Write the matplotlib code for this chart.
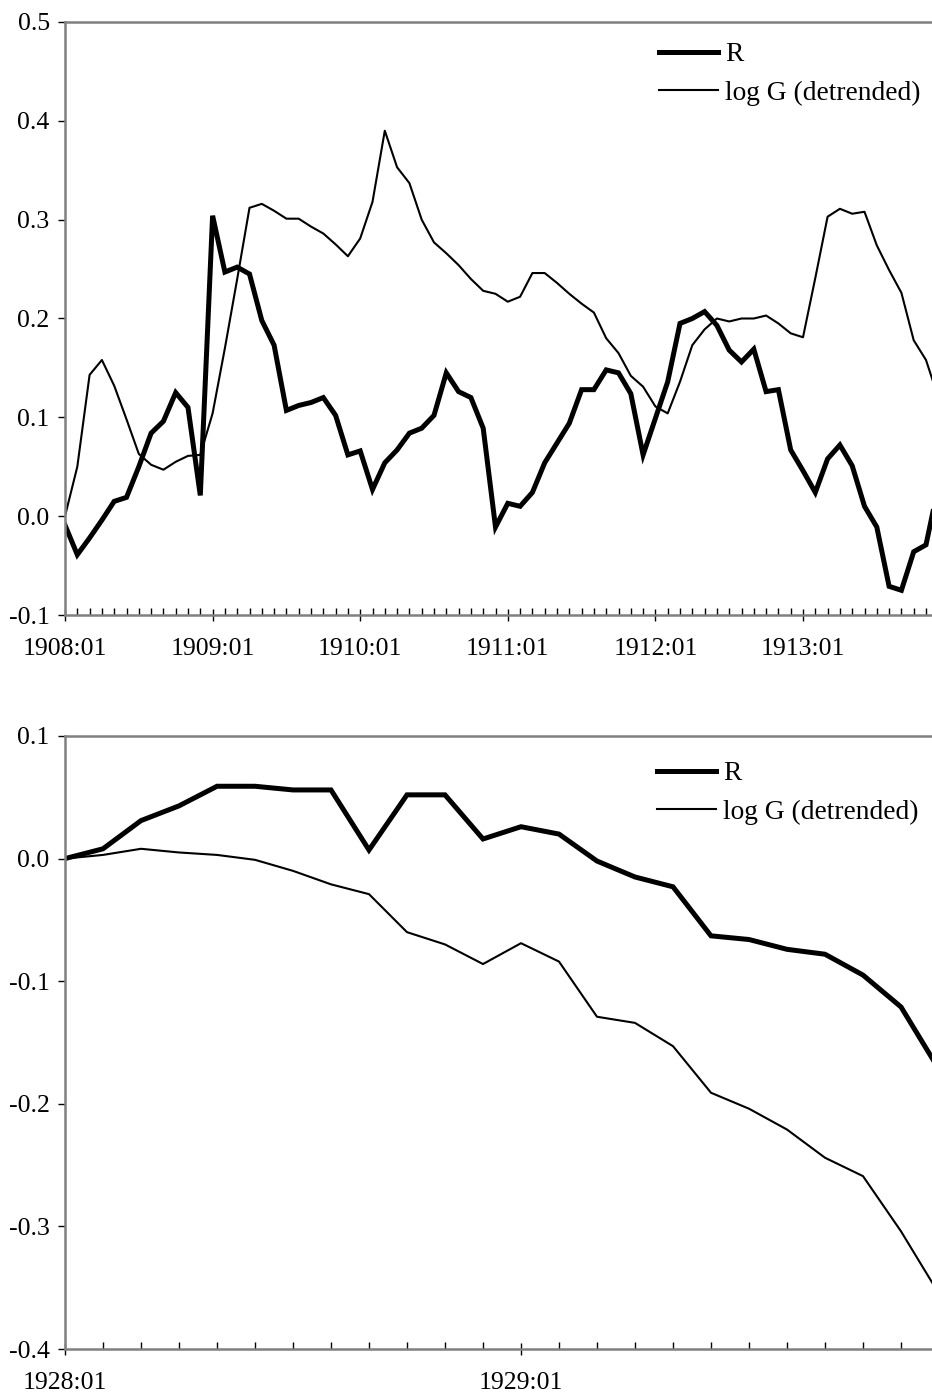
import numpy as np
import matplotlib
matplotlib.use("Agg")
import matplotlib.pyplot as plt
from matplotlib.ticker import MultipleLocator, FuncFormatter

plt.rcParams['font.family'] = ['Liberation Serif', 'DejaVu Serif']
plt.rcParams['axes.unicode_minus'] = False

# panel 1: monthly, 1908:01 onwards
r_1908 = [-0.009, -0.039, -0.022, -0.004, 0.015, 0.019, 0.050, 0.084, 0.096, 0.125, 0.110, 0.021,
          0.304, 0.247, 0.252, 0.245, 0.198, 0.173, 0.107, 0.112, 0.115, 0.120, 0.102, 0.062,
          0.066, 0.027, 0.054, 0.067, 0.084, 0.089, 0.102, 0.145, 0.126, 0.120, 0.089, -0.011,
          0.013, 0.010, 0.024, 0.054, 0.074, 0.094, 0.128, 0.128, 0.148, 0.145, 0.124, 0.062,
          0.099, 0.136, 0.195, 0.200, 0.207, 0.193, 0.168, 0.156, 0.169, 0.126, 0.128, 0.067,
          0.046, 0.024, 0.058, 0.072, 0.051, 0.010, -0.011, -0.071, -0.075, -0.036, -0.029, 0.030]
g_1908 = [0.000, 0.050, 0.143, 0.158, 0.132, 0.098, 0.063, 0.052, 0.047, 0.055, 0.061, 0.062,
          0.104, 0.170, 0.240, 0.312, 0.316, 0.309, 0.301, 0.301, 0.293, 0.286, 0.275, 0.263,
          0.281, 0.318, 0.390, 0.353, 0.337, 0.300, 0.277, 0.266, 0.254, 0.240, 0.228, 0.225,
          0.217, 0.222, 0.246, 0.246, 0.236, 0.225, 0.215, 0.206, 0.180, 0.165, 0.142, 0.131,
          0.111, 0.104, 0.136, 0.173, 0.189, 0.200, 0.197, 0.200, 0.200, 0.203, 0.195, 0.185,
          0.181, 0.241, 0.303, 0.311, 0.306, 0.308, 0.274, 0.249, 0.226, 0.178, 0.158, 0.120]

# panel 2: monthly, 1928:01 onwards
r_1928 = [0.000, 0.008, 0.031, 0.043, 0.059, 0.059, 0.056, 0.056, 0.007, 0.052, 0.052, 0.016,
          0.026, 0.020, -0.002, -0.015, -0.023, -0.063, -0.066, -0.074, -0.078, -0.095, -0.121, -0.172]
g_1928 = [0.000, 0.003, 0.008, 0.005, 0.003, -0.001, -0.010, -0.021, -0.029, -0.060, -0.070, -0.086,
          -0.069, -0.084, -0.129, -0.134, -0.153, -0.191, -0.204, -0.221, -0.244, -0.259, -0.304, -0.355]

W, H = 932, 1394
fig = plt.figure(figsize=(W / 100, H / 100), dpi=100)

FS = 18.5
LEG_FS = 19.7
spine_col = '#808080'


def setup(ax, start_year, xmax, ylim, leg_xy):
    ax.set_xlim(0, xmax)
    ax.set_ylim(*ylim)
    ax.spines['right'].set_visible(False)
    for s in ['left', 'top', 'bottom']:
        ax.spines[s].set_color(spine_col)
        ax.spines[s].set_linewidth(1.8)
    ax.yaxis.set_major_locator(MultipleLocator(0.1))
    ax.yaxis.set_major_formatter(FuncFormatter(lambda v, p: f"{v:.1f}".replace('-0.0', '0.0')))
    ax.xaxis.set_major_locator(MultipleLocator(12))
    ax.xaxis.set_minor_locator(MultipleLocator(1))
    ax.xaxis.set_major_formatter(FuncFormatter(lambda v, p: f"{start_year + int(round(v)) // 12}:01"))
    ax.tick_params(axis='y', direction='out', length=5, width=1, color='black',
                   labelsize=FS, pad=6)
    ax.tick_params(axis='x', which='major', direction='inout', length=9, width=1,
                   color='black', labelsize=FS, pad=12)
    ax.tick_params(axis='x', which='minor', direction='in', length=5, width=1, color='black')
    ax.legend(loc='upper left', bbox_to_anchor=leg_xy, bbox_transform=fig.transFigure,
              frameon=False, fontsize=LEG_FS, handlelength=2.15, handletextpad=0.28,
              borderpad=0, borderaxespad=0, labelspacing=0.5)


left = 65 / W
# top panel
ax1 = fig.add_axes([left, 1 - 615 / H, 1 - left, (615 - 22) / H])
x1 = np.arange(len(r_1908))
ax1.plot(x1, r_1908, color='black', lw=3.6, label='R', solid_joinstyle='miter')
ax1.plot(x1, g_1908, color='black', lw=1.5, label='log G (detrended)')
setup(ax1, 1908, (932 - 65) / 12.3, (-0.1, 0.5), (659 / W, 1 - 42 / H))

# bottom panel
ax2 = fig.add_axes([left, 1 - 1349 / H, 1 - left, (1349 - 736) / H])
x2 = np.arange(len(r_1928))
ax2.plot(x2, r_1928, color='black', lw=3.6, label='R', solid_joinstyle='miter')
ax2.plot(x2, g_1928, color='black', lw=1.5, label='log G (detrended)')
setup(ax2, 1928, (932 - 65) / 38.0, (-0.4, 0.1), (657 / W, 1 - 761 / H))

fig.savefig('out.png', dpi=100)
